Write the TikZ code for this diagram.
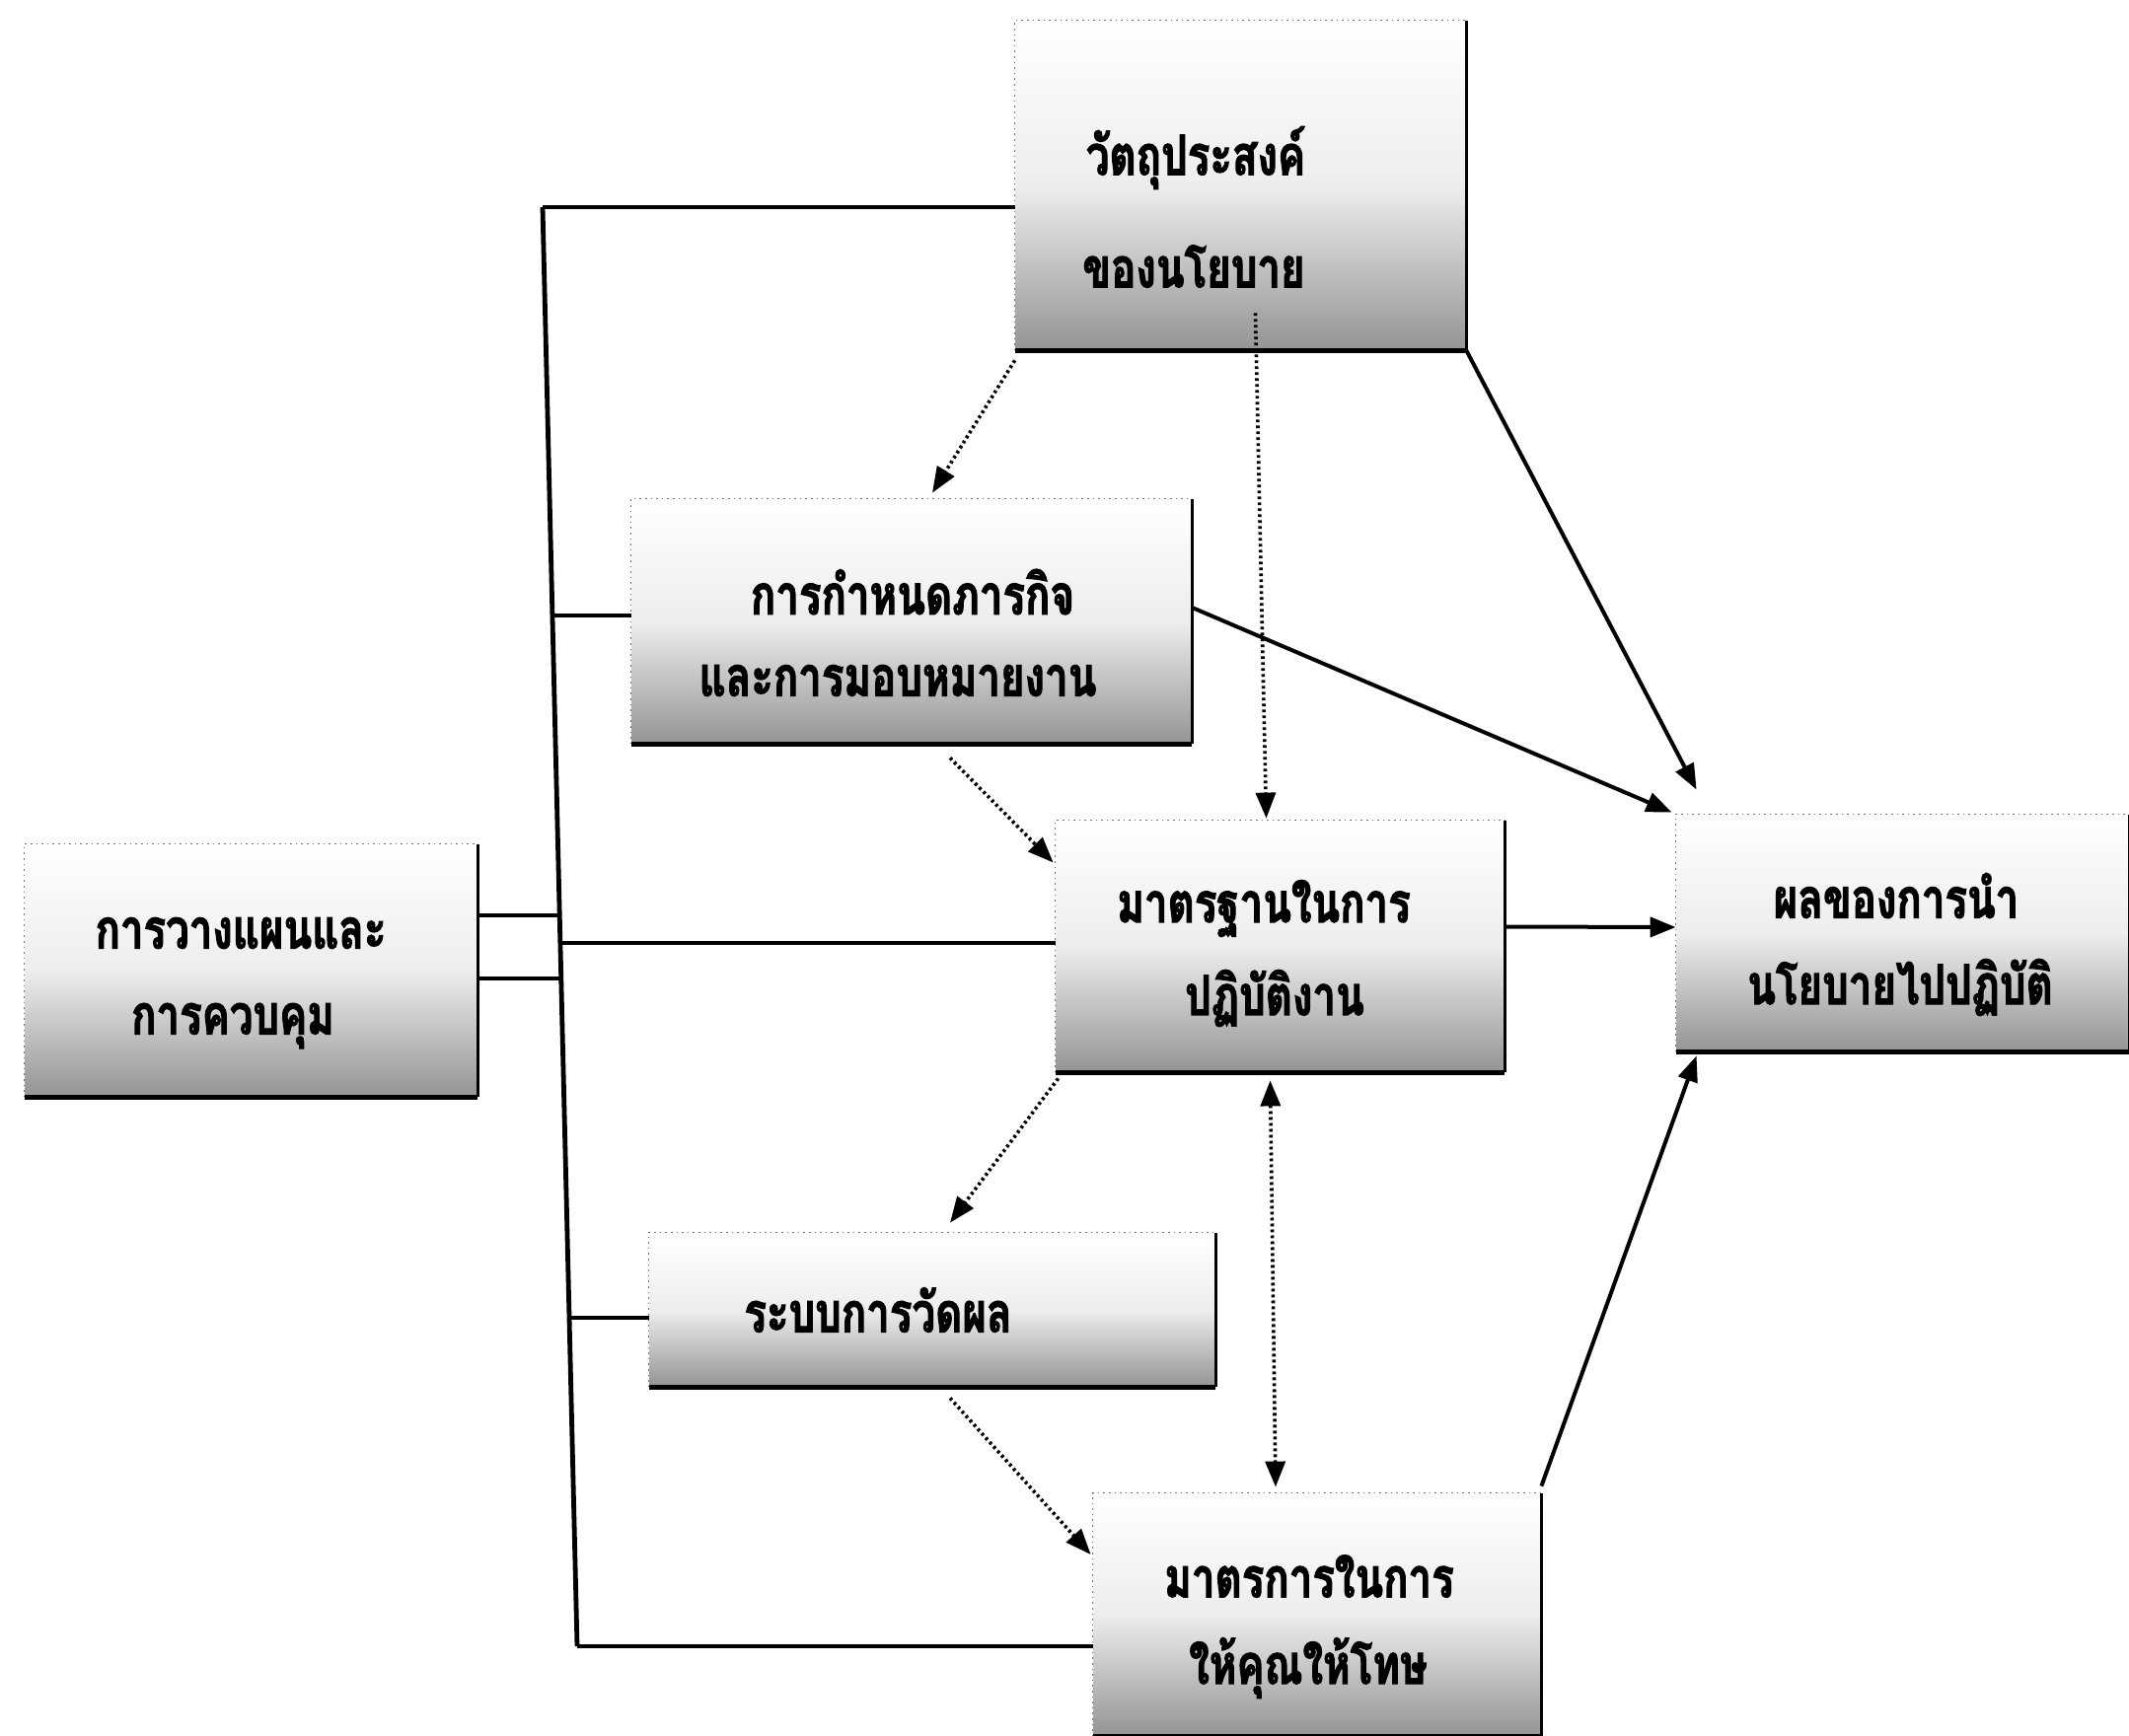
\documentclass[tikz,border=0pt]{standalone}
\usepackage{fontspec}
\newfontfamily\thaifont[Script=Thai,FakeStretch=0.75,BoldFeatures={FakeBold=2}]{Loma}
\usetikzlibrary{arrows.meta,calc}
\begin{document}
\begin{tikzpicture}[x=0.5pt,y=-0.5pt,
  box/.style={inner sep=0pt, top color=white, bottom color=black!42, middle color=white!93!black},
  txt/.style={font=\thaifont\bfseries\fontsize{28}{32}\selectfont, inner sep=0pt},
  link/.style={line width=2pt},
  solidarrow/.style={line width=2pt, -{Triangle[length=13pt,width=10pt]}},
  dotarrow/.style={line width=1.8pt, dash pattern=on 1.4pt off 1.6pt, -{Triangle[length=13pt,width=10pt]}},
  dotboth/.style={line width=1.8pt, dash pattern=on 1.4pt off 1.6pt, {Triangle[length=13pt,width=10pt]}-{Triangle[length=13pt,width=10pt]}},
  edgelight/.style={black!55, line width=0.8pt, dash pattern=on 0.8pt off 2pt},
  edgeright/.style={black, line width=1.4pt},
  edgebottom/.style={black, line width=2.8pt}]
\useasboundingbox (0,0) rectangle (2158,1760);
\fill[white] (0,0) rectangle (2158,1760);

% boxes
\node[box, minimum width=228.5pt, minimum height=167pt] (b1) at (1257.5,188) {};
\node[box, minimum width=284pt, minimum height=124pt] (b2) at (924,630) {};
\node[box, minimum width=229.5pt, minimum height=128pt] (b3) at (254.5,984) {};
\node[box, minimum width=227.5pt, minimum height=127.5pt] (b4) at (1297.5,959.5) {};
\node[box, minimum width=229.5pt, minimum height=120pt] (b5) at (1928.5,946) {};
\node[box, minimum width=287pt, minimum height=78pt] (b6) at (945,1328) {};
\node[box, minimum width=227pt, minimum height=123pt] (b7) at (1335,1637) {};

\foreach \b in {b1,b2,b3,b4,b5,b6,b7}{
  \draw[edgelight] (\b.south west) -- (\b.north west) -- (\b.north east);
  \draw[edgeright] (\b.north east) -- (\b.south east);
  \draw[edgebottom] (\b.south west) -- (\b.south east);
}

% texts
\node[txt] (t1a) at (1212,160) {วัตถุประสงค์};
\node[txt] (t1b) at (1210,270) {ของนโยบาย};
\node[txt] (t2a) at (925,600) {การกำหนดภารกิจ};
\node[txt] (t2b) at (910,690) {และการมอบหมายงาน};
\node[txt] (t3a) at (244,946) {การวางแผนและ};
\node[txt] (t3b) at (236,1040) {การควบคุม};
\node[txt] (t4a) at (1281,921) {มาตรฐานในการ};
\node[txt] (t4b) at (1292,1012) {ปฏิบัติงาน};
\node[txt] (t5a) at (1922,908) {ผลของการนำ};
\node[txt] (t5b) at (1926,1001) {นโยบายไปปฏิบัติ};
\node[txt] (t6) at (890,1328) {ระบบการวัดผล};
\node[txt] (t7a) at (1327,1598) {มาตรการในการ};
\node[txt] (t7b) at (1326,1691) {ให้คุณให้โทษ};

% left bracket line
\coordinate (vt) at (550,210);
\coordinate (vb) at (585,1669);
\coordinate (v2) at ($(vt)!0.284!(vb)$);
\coordinate (v3a) at ($(vt)!0.492!(vb)$);
\coordinate (v3b) at ($(vt)!0.536!(vb)$);
\coordinate (v4) at ($(vt)!0.511!(vb)$);
\coordinate (v6) at ($(vt)!0.772!(vb)$);
\draw[link, line width=2.4pt] (vt) -- (vb);
\draw[link] (vt) -- (vt -| b1.west);
\draw[link] (v2) -- (v2 -| b2.west);
\draw[link] (b3.east |- v3a) -- (v3a);
\draw[link] (b3.east |- v3b) -- (v3b);
\draw[link] (v4) -- (v4 -| b4.west);
\draw[link] (v6) -- (v6 -| b6.west);
\draw[link] (vb) -- (vb -| b7.west);

% arrows
\draw[dotarrow] ($(b1.south west)+(0,10)$) -- ($(b2.north)+(21,-6)$);
\draw[dotarrow] ($(b1.south)+(15,-38)$) -- ($(b4.north)+(-14,-2)$);
\draw[solidarrow] (b1.south east) -- ($(b5.north west)+(21,-25)$);
\draw[solidarrow] ($(b2.east)+(0,-14)$) -- ($(b5.north west)+(-4,-2)$);
\draw[dotarrow] ($(b2.south)+(39,14)$) -- ($(b4.west)+(-2,-85)$);
\draw[solidarrow] ($(b4.east)+(0,-20)$) -- ($(b5.west)+(0,-6)$);
\draw[dotarrow] ($(b4.south west)+(3,6)$) -- ($(b6.north)+(18,-10)$);
\draw[dotboth] ($(b4.south)+(-10,8)$) -- ($(b7.north)+(-42,-6)$);
\draw[dotarrow] ($(b6.south)+(18,11)$) -- ($(b7.west)+(-2,-61)$);
\draw[solidarrow] ($(b7.north east)+(0,-7)$) -- ($(b5.south west)+(21,4)$);
\end{tikzpicture}
\end{document}
